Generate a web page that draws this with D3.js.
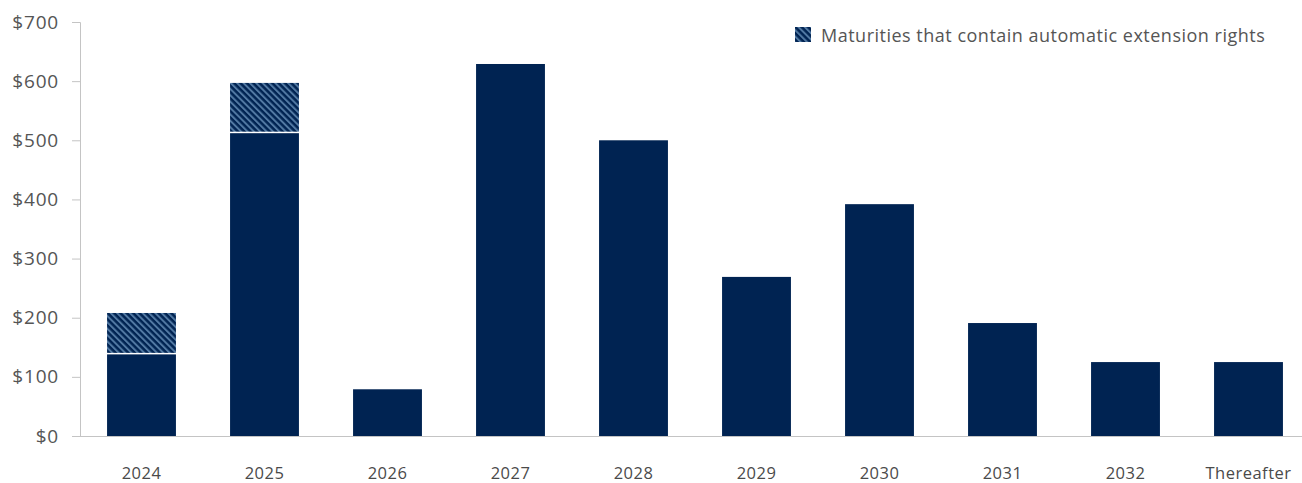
<!DOCTYPE html>
<html>
<head>
<meta charset="utf-8">
<script src="https://cdn.jsdelivr.net/npm/d3@7"></script>
<style>
body { margin: 0; background: #fff; }
svg { display: block; }
</style>
</head>
<body>
<div id="chart"></div>
<script>
var categories = ["2024", "2025", "2026", "2027", "2028", "2029", "2030", "2031", "2032", "Thereafter"];
var baseValues = [138, 512, 79, 629, 500, 269, 392, 191, 125, 125];
var extValues = [70, 85, 0, 0, 0, 0, 0, 0, 0, 0];
var yTicks = [0, 100, 200, 300, 400, 500, 600, 700];
var legendLabel = "Maturities that contain automatic extension rights";

var W = 1302, H = 483;
var margin = {top: 22, right: 0, bottom: 47, left: 80};
var navy = "#002352";
var font = "'Open Sans', sans-serif";

var svg = d3.select("#chart").append("svg")
    .attr("width", W).attr("height", H);

var defs = svg.append("defs");
var pat = defs.append("pattern")
    .attr("id", "hatch")
    .attr("patternUnits", "userSpaceOnUse")
    .attr("width", 4.5).attr("height", 4.5)
    .attr("patternTransform", "rotate(-45)");
pat.append("rect").attr("width", 4.5).attr("height", 4.5).attr("fill", navy);
pat.append("rect").attr("width", 2).attr("height", 4.5).attr("fill", "#5279a3");

var x = d3.scaleBand()
    .domain(categories)
    .range([margin.left, margin.left + 1230])
    .paddingInner(0.44)
    .paddingOuter(0.22);

var y = d3.scaleLinear()
    .domain([0, 700])
    .range([H - margin.bottom, margin.top]);

// y axis
var yAxis = svg.append("g")
    .attr("transform", "translate(" + margin.left + ",0)")
    .call(d3.axisLeft(y).tickValues(yTicks).tickSize(8).tickPadding(13)
        .tickFormat(function(d) { return "$" + d; }));
yAxis.select(".domain").attr("stroke", "#c4c4c4");
yAxis.selectAll(".tick line").attr("stroke", "#c4c4c4");
yAxis.selectAll("text")
    .attr("fill", "#555")
    .style("font-family", font)
    .style("font-size", "19px")
    .style("letter-spacing", "0.8px");

// bars
var data = categories.map(function(c, i) {
    return {cat: c, base: baseValues[i], ext: extValues[i]};
});

svg.selectAll(".base").data(data).enter().append("rect")
    .attr("class", "base")
    .attr("x", function(d) { return x(d.cat); })
    .attr("width", x.bandwidth())
    .attr("y", function(d) { return y(d.base); })
    .attr("height", function(d) { return y(0) - y(d.base); })
    .attr("fill", navy);

svg.selectAll(".ext").data(data.filter(function(d) { return d.ext > 0; })).enter().append("rect")
    .attr("class", "ext")
    .attr("x", function(d) { return x(d.cat); })
    .attr("width", x.bandwidth())
    .attr("y", function(d) { return y(d.base + d.ext); })
    .attr("height", function(d) { return y(d.base) - y(d.base + d.ext) - 1.5; })
    .attr("fill", "url(#hatch)");

// x axis
var xAxisY = y(0);
svg.append("line")
    .attr("x1", margin.left).attr("x2", W)
    .attr("y1", xAxisY + 0.5).attr("y2", xAxisY + 0.5)
    .attr("stroke", "#c4c4c4");

svg.selectAll(".xlab").data(categories).enter().append("text")
    .attr("class", "xlab")
    .attr("x", function(d) { return x(d) + x.bandwidth() / 2; })
    .attr("y", 479)
    .attr("text-anchor", "middle")
    .attr("fill", "#4a4a4a")
    .style("font-family", font)
    .style("font-size", "16.5px")
    .style("letter-spacing", "0.5px")
    .text(function(d) { return d; });

// legend
svg.append("rect")
    .attr("x", 795).attr("y", 27).attr("width", 16).attr("height", 15)
    .attr("fill", "url(#hatch)");
svg.append("text")
    .attr("x", 821).attr("y", 42)
    .attr("fill", "#555")
    .style("font-family", font)
    .style("font-size", "18px")
    .style("letter-spacing", "0.5px")
    .text(legendLabel);
</script>
</body>
</html>
